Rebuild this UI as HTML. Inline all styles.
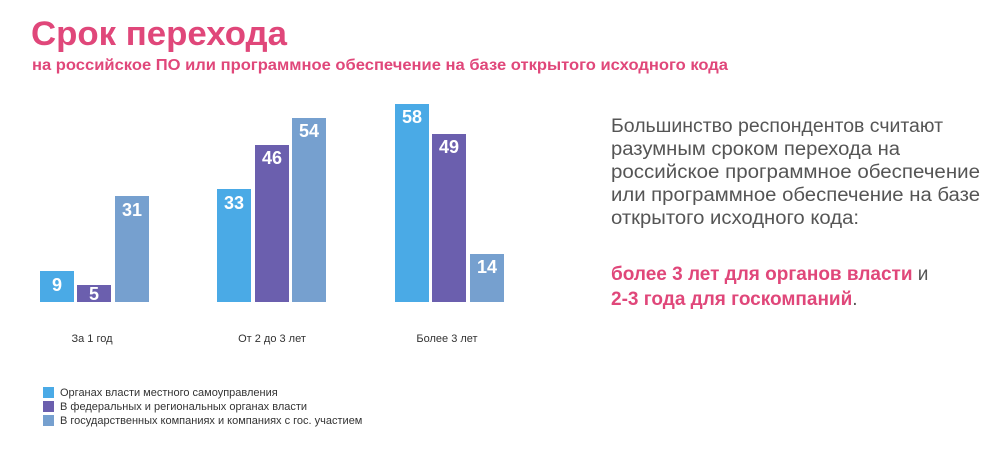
<!DOCTYPE html>
<html><head><meta charset="utf-8"><style>
html,body{margin:0;padding:0;background:#fff;}
svg{display:block;font-family:"Liberation Sans",sans-serif;}
</style></head><body>
<svg width="1003" height="453" viewBox="0 0 1003 453" xmlns="http://www.w3.org/2000/svg">
<text x="31" y="45" font-size="34" font-weight="bold" fill="#e0477a" textLength="256" lengthAdjust="spacingAndGlyphs">Срок перехода</text>
<text x="32" y="70" font-size="16" font-weight="bold" fill="#e0477a" textLength="696" lengthAdjust="spacingAndGlyphs">на российское ПО или программное обеспечение на базе открытого исходного кода</text>

<g>
<rect x="40" y="271" width="34" height="31" fill="#4aaae6"/>
<rect x="77" y="285" width="34" height="17" fill="#6b5fae"/>
<rect x="115" y="196" width="34" height="106" fill="#76a0cf"/>
<rect x="217" y="189" width="34" height="113" fill="#4aaae6"/>
<rect x="255" y="145" width="34" height="157" fill="#6b5fae"/>
<rect x="292" y="118" width="34" height="184" fill="#76a0cf"/>
<rect x="395" y="104" width="34" height="198" fill="#4aaae6"/>
<rect x="432" y="134" width="34" height="168" fill="#6b5fae"/>
<rect x="470" y="254" width="34" height="48" fill="#76a0cf"/>
</g>
<g font-size="18" font-weight="bold" fill="#fff" text-anchor="middle">
<text x="57" y="291">9</text>
<text x="94" y="300">5</text>
<text x="132" y="216">31</text>
<text x="234" y="209">33</text>
<text x="272" y="164">46</text>
<text x="309" y="137">54</text>
<text x="412" y="123">58</text>
<text x="449" y="153">49</text>
<text x="487" y="273">14</text>
</g>
<g font-size="11" fill="#333" text-anchor="middle">
<text x="92" y="342">За 1 год</text>
<text x="272" y="342">От 2 до 3 лет</text>
<text x="447" y="342">Более 3 лет</text>
</g>
<rect x="43" y="387" width="11" height="11" fill="#4aaae6"/>
<rect x="43" y="401" width="11" height="11" fill="#6b5fae"/>
<rect x="43" y="415" width="11" height="11" fill="#76a0cf"/>
<g font-size="11" fill="#333">
<text x="60" y="396">Органах власти местного самоуправления</text>
<text x="60" y="410">В федеральных и региональных органах власти</text>
<text x="60" y="424">В государственных компаниях и компаниях с гос. участием</text>
</g>
<g font-size="19" fill="#555">
<text x="611" y="132" textLength="332" lengthAdjust="spacingAndGlyphs">Большинство респондентов считают</text>
<text x="611" y="155" textLength="289" lengthAdjust="spacingAndGlyphs">разумным сроком перехода на</text>
<text x="611" y="178" textLength="369" lengthAdjust="spacingAndGlyphs">российское программное обеспечение</text>
<text x="611" y="201" textLength="369" lengthAdjust="spacingAndGlyphs">или программное обеспечение на базе</text>
<text x="611" y="224" textLength="248" lengthAdjust="spacingAndGlyphs">открытого исходного кода:</text>
</g>
<text x="611" y="280" font-size="19" fill="#555"><tspan font-weight="bold" fill="#e0477a">более 3 лет для органов власти</tspan> и</text>
<text x="611" y="305" font-size="19" fill="#555"><tspan font-weight="bold" fill="#e0477a">2-3 года для госкомпаний</tspan>.</text>
</svg>
</body></html>
